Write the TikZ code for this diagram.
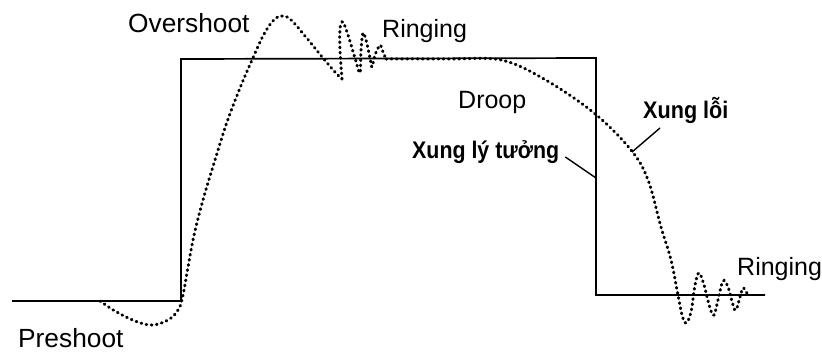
\documentclass[tikz,border=0pt]{standalone}
\usepackage{fontspec}
\setmainfont{Liberation Sans}
\usetikzlibrary{calc}
\begin{document}
\begin{tikzpicture}[x=1pt,y=-1pt,
  ideal/.style={line width=1.7pt,line join=miter},
  real/.style={line width=3pt,line cap=round,dash pattern=on 0.8pt off 4.4pt},
  lbl/.style={inner sep=0pt,anchor=base west,font=\fontsize{25}{28}\selectfont},
  lblbig/.style={lbl,font=\fontsize{26.3}{29}\selectfont},
  lblb/.style={inner sep=0pt,anchor=base west,font=\fontsize{24}{27}\selectfont\bfseries},
  leader/.style={line width=1.4pt}]
\useasboundingbox (0,0) rectangle (822,354);
% ideal pulse
\draw[ideal] (12,301) -- (181,301) -- (181,59) -- (596,58) -- (596,295) -- (765,295);
% real pulse
\draw[real] plot[smooth,tension=0.6] coordinates {(100,301) (115,311) (135,321) (152,325) (168,320) (178,310) (183,295) (193,240) (203,200) (215,160) (227,122) (240,88) (252,60) (263,36) (272,22) (280,16) (290,19) (305,36) (323,58) (335,72) (342,79)};
\draw[real] plot[smooth,tension=0.5] coordinates {(342,79) (340,50) (340,28) (343,22) (348,35) (355,58) (360,73) (361,50) (363,33) (366,40) (370,58) (372,67) (375,55) (380,45) (383,52) (386,59)};
\draw[real] plot[smooth,tension=0.6] coordinates {(386,59) (450,59) (501,60) (544,79) (594,113) (631,150) (648,180) (661,227) (671,260) (678,295) (682,315) (686,323) (691,312) (695,285) (699,273) (704,285) (710,308) (714,315) (718,300) (723,281) (728,287) (733,305) (736,310) (740,297) (743,288) (746,292) (749,295)};
% labels
\node[lblbig] (over) at (128,32) {Overshoot};
\node[lbl] (ring1) at (382,37) {Ringing};
\node[lbl] (droop) at (458,108) {Droop};
\node[lblb] (ideal) at (412,158) {\scalebox{0.89}[1]{Xung lý tưởng}};
\node[lblb] (loi) at (643,118) {\scalebox{0.9}[1]{Xung lỗi}};
\node[lblbig] (pre) at (18,347) {Preshoot};
\node[lbl] (ring2) at (737,275) {Ringing};
% leaders
\coordinate (idealtip) at (596,178);
\coordinate (loitip) at (632,152);
\draw[leader] ($(ideal.base east)+(6,-1)$) -- (idealtip);
\draw[leader] ($(loi.base west)+(17,10)$) -- (loitip);
\end{tikzpicture}
\end{document}
